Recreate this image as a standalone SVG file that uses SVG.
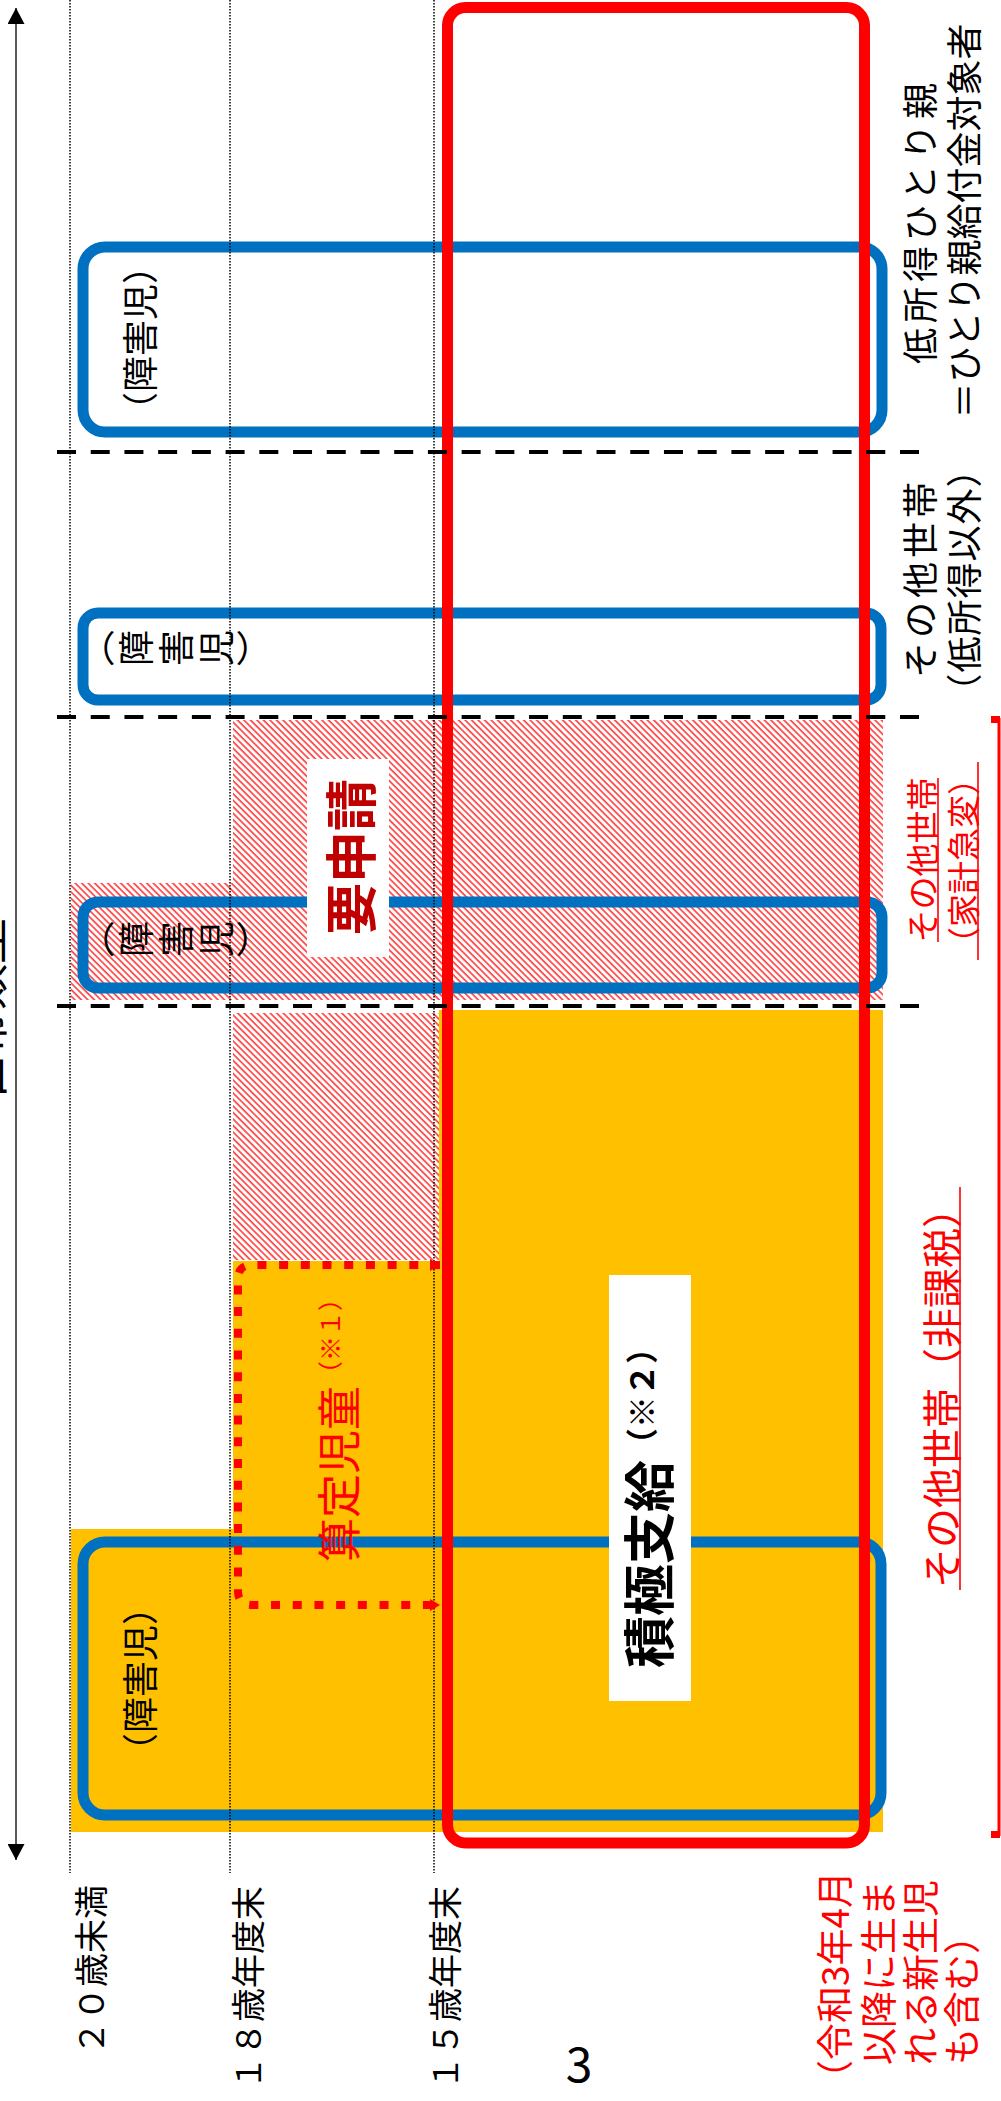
<svg xmlns="http://www.w3.org/2000/svg" width="1001" height="2101" viewBox="0 0 1001 2101">
<style>
text{font-family:"Noto Sans CJK JP","Noto Sans",sans-serif;dominant-baseline:central;fill:#000}
.red{fill:#FF0000}
.box{fill:none;stroke:#0070C0;stroke-width:11}
.dot{stroke:#000;stroke-width:1.5;stroke-dasharray:1.5 1.5;fill:none}
.dash{stroke:#000;stroke-width:4;stroke-dasharray:19 14.72;fill:none}
.ul{stroke:#FF0000;stroke-width:1.6;fill:none}
.lbl{font-size:36px}
.age{font-size:34px}
.note{font-size:37px;fill:#FF0000}
.vt{writing-mode:vertical-rl;font-feature-settings:"vpal";font-size:36px;letter-spacing:4px}
</style>
<defs>
<pattern id="hatch" patternUnits="userSpaceOnUse" width="4.6" height="4.6" patternTransform="rotate(45)">
<rect width="4.6" height="4.6" fill="#fff"/>
<rect width="4.6" height="1.7" fill="#FF4545"/>
</pattern>
<marker id="ah" markerUnits="userSpaceOnUse" markerWidth="17" markerHeight="17" refX="16" refY="8.5" orient="auto-start-reverse"><path d="M0,0 L16,8.5 L0,17 z" fill="#000"/></marker>
<marker id="rh" markerUnits="userSpaceOnUse" markerWidth="12" markerHeight="12" refX="10" refY="6" orient="auto-start-reverse"><path d="M0,0 L10,6 L0,12 z" fill="#FF0000"/></marker>
</defs>
<rect width="1001" height="2101" fill="#fff"/>

<g id="regions">
<path id="hatch-kakei" d="M233,720 H883 V1000 H71 V883 H233 Z" fill="url(#hatch)"/>
<rect id="hatch-santei" x="233" y="1013" width="207" height="247" fill="url(#hatch)"/>
<path id="yellow" d="M439,1010 H883 V1832 H71 V1529 H233 V1261 H439 Z" fill="#FFC000"/>
</g>

<g id="blue-boxes">
<g id="box-hitorioya"><rect class="box" x="83" y="247" width="799" height="185" rx="22"/></g>
<g id="box-teishotoku-igai"><rect class="box" x="83" y="613" width="798" height="87" rx="15"/></g>
<g id="box-kakei"><rect class="box" x="83" y="902" width="799" height="86" rx="15"/></g>
<g id="box-hikazei"><rect class="box" x="83" y="1542" width="798" height="273" rx="22"/></g>
</g>

<g id="red-frame"><rect x="447.5" y="7.5" width="417" height="1835.5" rx="18" fill="none" stroke="#FF0000" stroke-width="11"/></g>

<g id="grid">
<line class="dot" x1="70" y1="0" x2="70" y2="1873"/>
<line class="dot" x1="230" y1="0" x2="230" y2="1873"/>
<line class="dot" x1="434" y1="0" x2="434" y2="1873"/>
<line class="dash" x1="57" y1="452" x2="919" y2="452"/>
<line class="dash" x1="57" y1="717" x2="919" y2="717"/>
<line class="dash" x1="57" y1="1006" x2="919" y2="1006"/>
</g>

<g id="connectors">
<line id="axis" x1="16" y1="8" x2="16" y2="1860" stroke="#222" stroke-width="1.5" marker-start="url(#ah)" marker-end="url(#ah)"/>
<path id="santei-bracket" d="M440,1265 H252 Q238,1265 238,1279 V1591 Q238,1605 252,1605 H440" fill="none" stroke="#FF0000" stroke-width="8" stroke-dasharray="9 12.7" marker-start="url(#rh)" marker-end="url(#rh)"/>
<g id="right-bracket"><line x1="999" y1="718" x2="999" y2="1836" stroke="#FF0000" stroke-width="3"/><rect x="991" y="716" width="9" height="7" fill="#FF0000"/><rect x="991" y="1831" width="9" height="7" fill="#FF0000"/></g>
</g>

<g id="node-youshinsei"><rect x="307" y="759" width="82" height="198" fill="#fff"/><text transform="translate(348,857) rotate(-90)" text-anchor="middle" font-size="52" font-weight="bold" style="fill:#C00000">要申請</text></g>
<g id="node-sekkyoku"><rect x="609" y="1275" width="82" height="426" fill="#fff"/><text transform="translate(646,1668) rotate(-90)" font-weight="bold"><tspan font-size="52">積極支給</tspan><tspan font-size="32" dy="-6">（※２）</tspan></text></g>
<g id="node-santei"><text class="red" transform="translate(337,1562) rotate(-90)"><tspan font-size="44">算定児童</tspan><tspan font-size="25" dy="-8">（※１）</tspan></text></g>

<g id="box-labels">
<text class="lbl" transform="translate(138,338) rotate(-90)" text-anchor="middle">（障害児）</text>
<text class="vt" transform="translate(178,648) rotate(-90)" text-anchor="middle">（障害児）</text>
<text class="vt" transform="translate(178,939) rotate(-90)" text-anchor="middle">（障害児）</text>
<text class="lbl" transform="translate(138,1679) rotate(-90)" text-anchor="middle">（障害児）</text>
</g>

<g id="row-labels">
<text class="lbl" transform="translate(918,221) rotate(-90)" text-anchor="middle" letter-spacing="5">低所得ひとり親</text>
<text class="lbl" transform="translate(962,221) rotate(-90)" text-anchor="middle">＝ひとり親給付金対象者</text>
<text class="lbl" transform="translate(918,578) rotate(-90)" text-anchor="middle" letter-spacing="4">その他世帯</text>
<text class="lbl" transform="translate(962,580) rotate(-90)" text-anchor="middle" letter-spacing="1">（低所得以外）</text>
<text class="red" font-size="33" transform="translate(921,860) rotate(-90)" text-anchor="middle">その他世帯</text>
<text class="red" font-size="33" transform="translate(962,861) rotate(-90)" text-anchor="middle">（家計急変）</text>
<line class="ul" x1="938" y1="778" x2="938" y2="942"/>
<line class="ul" x1="978" y1="762" x2="978" y2="960"/>
<text class="red" font-size="40" transform="translate(940,1388) rotate(-90)" text-anchor="middle">その他世帯（非課税）</text>
<line class="ul" x1="960" y1="1187" x2="960" y2="1590"/>
</g>

<g id="age-labels">
<text class="age" transform="translate(89,1885) rotate(-90)" text-anchor="end">２０歳未満</text>
<text class="age" transform="translate(246,1886) rotate(-90)" text-anchor="end">１８歳年度末</text>
<text class="age" transform="translate(443,1886) rotate(-90)" text-anchor="end">１５歳年度末</text>
</g>

<g id="note">
<text class="note" transform="translate(833,2097) rotate(-90)">（令和3年4月</text>
<text class="note" transform="translate(877,2065) rotate(-90)">以降に生ま</text>
<text class="note" transform="translate(919,2065) rotate(-90)">れる新生児</text>
<text class="note" transform="translate(960,2065) rotate(-90)">も含む）</text>
</g>

<text id="axis-title" font-size="46" transform="translate(-18,1010) rotate(-90)" text-anchor="middle">世帯類型</text>
<text id="page-number" x="579" y="2082" font-size="48" text-anchor="middle" style="dominant-baseline:auto">3</text>
</svg>
